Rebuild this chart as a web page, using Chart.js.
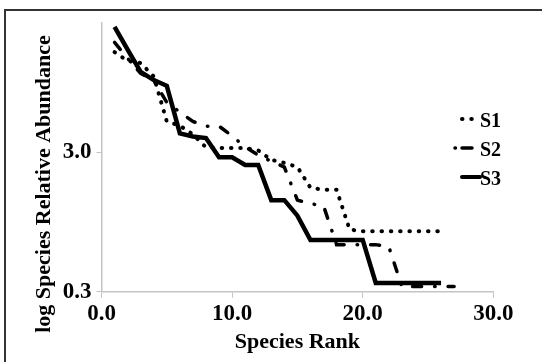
<!DOCTYPE html>
<html>
<head>
<meta charset="utf-8">
<script src="https://cdn.jsdelivr.net/npm/chart.js@4.4.1/dist/chart.umd.min.js"></script>
<style>
  html, body { margin: 0; padding: 0; background: #fff; }
  #wrap { position: relative; width: 542px; height: 362px; }
  #frame { position: absolute; left: 4px; top: 9px; right: -4px; bottom: -4px;
           border-top: 2px solid #333; border-left: 2px solid #333; pointer-events: none; }
</style>
</head>
<body>
<div id="wrap">
  <canvas id="myChart" width="542" height="362"></canvas>
  <div id="frame"></div>
</div>
<script>
'use strict';

// species rank (x) and log relative abundance per site
const ranks = [1, 2, 3, 4, 5, 6, 7, 8, 9, 10, 11, 12, 13, 14, 15, 16, 17, 18, 19, 20, 21, 22, 23, 24, 25, 26, 27];
const seriesNames = ['S1', 'S2', 'S3'];
const s1Values = [4.93, 4.76, 4.72, 4.46, 3.59, 3.51, 3.34, 3.09, 3.08, 3.08, 3.08, 3.03, 2.85, 2.79, 2.71, 2.31, 2.27, 2.27, 1.50, 1.47, 1.47, 1.47, 1.47, 1.47, 1.47, 1.47];
const s2Values = [5.12, 4.81, 4.52, 4.38, 3.96, 3.77, 3.59, 3.50, 3.50, 3.31, 3.10, 2.94, 2.82, 2.71, 2.07, 2.00, 1.96, 1.21, 1.21, 1.21, 1.21, 1.17, 0.40, 0.40, 0.40, 0.40, 0.40];
const s3Values = [5.42, 4.98, 4.55, 4.39, 4.28, 3.36, 3.30, 3.27, 2.90, 2.90, 2.75, 2.75, 2.07, 2.07, 1.77, 1.30, 1.30, 1.30, 1.30, 1.30, 0.47, 0.47, 0.47, 0.47, 0.47, 0.47];
const xTicks = [0, 10, 20, 30];
const yTicks = [0.3, 3.0];

const serif = "'Liberation Serif', 'Times New Roman', serif";

function toPoints(values) {
  // pair each value with its rank
  return values.map(function (v, i) { return { x: ranks[i], y: v }; });
}

// y title and legend are drawn by hand so they sit where the original has them
const extrasPlugin = {
  id: 'extras',
  afterDraw: function (chart) {
    const ctx = chart.ctx;
    ctx.save();
    ctx.fillStyle = '#000';
    ctx.font = 'bold 22px ' + serif;
    ctx.textAlign = 'center';
    ctx.textBaseline = 'middle';
    ctx.translate(44, 184);
    ctx.rotate(-Math.PI / 2);
    ctx.fillText('log Species Relative Abundance', 0, 0);
    ctx.restore();

    // legend samples
    const samples = [
      { y: 119, x0: 462, x1: 472, width: 4, dash: [0.5, 8.8] },
      { y: 148, x0: 455, x1: 472, width: 3.5, dash: [0.5, 6.5, 10, 100] },
      { y: 177, x0: 462, x1: 480, width: 4, dash: [] }
    ];
    ctx.save();
    ctx.strokeStyle = '#000';
    ctx.lineCap = 'round';
    samples.forEach(function (s, i) {
      ctx.beginPath();
      ctx.lineWidth = s.width;
      ctx.setLineDash(s.dash);
      ctx.moveTo(s.x0, s.y);
      ctx.lineTo(s.x1, s.y);
      ctx.stroke();
      ctx.setLineDash([]);
      ctx.fillStyle = '#000';
      ctx.font = 'bold 20px ' + serif;
      ctx.textAlign = 'left';
      ctx.textBaseline = 'alphabetic';
      ctx.fillText(seriesNames[i], 480, s.y + 8);
    });
    ctx.restore();
  }
};

const chartCanvas = document.getElementById('myChart');

new Chart(chartCanvas, {
  type: 'line',
  data: {
    datasets: [{
      label: seriesNames[0],
      data: toPoints(s1Values),
      borderColor: '#000',
      borderWidth: 4,
      borderDash: [0.5, 8.8],
      borderCapStyle: 'round',
      pointRadius: 0,
      tension: 0
    }, {
      label: seriesNames[1],
      data: toPoints(s2Values),
      borderColor: '#000',
      borderWidth: 3.5,
      borderDash: [9, 13, 0.5, 13],
      borderCapStyle: 'round',
      pointRadius: 0,
      tension: 0
    }, {
      label: seriesNames[2],
      data: toPoints(s3Values),
      borderColor: '#000',
      borderWidth: 4.5,
      borderJoinStyle: 'miter',
      pointRadius: 0,
      tension: 0
    }]
  },
  options: {
    responsive: false,
    animation: false,
    layout: { padding: { left: 0, right: 48.7, top: 22.7, bottom: 0 } },
    plugins: {
      legend: { display: false },
      tooltip: { enabled: false }
    },
    scales: {
      x: {
        type: 'linear',
        min: 0,
        max: 30,
        afterFit: function (scale) { scale.height = 70.3; },
        afterBuildTicks: function (scale) {
          scale.ticks = xTicks.map(function (v) { return { value: v }; });
        },
        ticks: {
          padding: 3,
          color: '#000',
          font: { family: serif, size: 23, weight: 'bold' },
          callback: function (v) { return Number(v).toFixed(1); }
        },
        grid: { drawOnChartArea: false, tickLength: 6, color: '#c4c4c4' },
        border: { color: '#c4c4c4', width: 1.5 },
        title: {
          display: true,
          text: 'Species Rank',
          color: '#000',
          font: { family: serif, size: 22, weight: 'bold' },
          padding: { top: 4, bottom: 6 }
        }
      },
      y: {
        type: 'linear',
        min: 0.3,
        max: 5.5,
        afterFit: function (scale) { scale.width = 101.5; },
        afterBuildTicks: function (scale) {
          scale.ticks = yTicks.map(function (v) { return { value: v }; });
        },
        ticks: {
          padding: 5,
          color: '#000',
          font: { family: serif, size: 23, weight: 'bold' },
          callback: function (v) { return Number(v).toFixed(1); }
        },
        grid: { drawOnChartArea: false, tickLength: 5, color: '#c4c4c4' },
        border: { color: '#c4c4c4', width: 1.5 }
      }
    }
  },
  plugins: [extrasPlugin]
});
</script>
</body>
</html>
